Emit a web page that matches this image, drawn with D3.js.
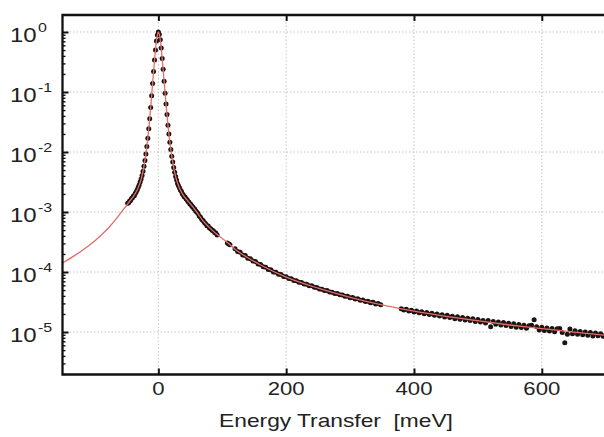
<!DOCTYPE html>
<html lang="en">
<head>
<meta charset="UTF-8">
<title>Energy Transfer</title>
<script src="https://cdn.jsdelivr.net/npm/d3@7"></script>
<style>
  body { margin: 0; background: #fff; }
  svg { display: block; }
  text { font-family: "Liberation Sans", Arial, sans-serif; fill: #222; }
</style>
</head>
<body>
<svg id="chart" width="604" height="437"></svg>
<script>
// measured points around the elastic peak (meV, normalised intensity)
const peakE = [-48, -46.5, -45, -43.5, -42, -40.5, -39, -37.5, -36, -34.5, -33, -31.5, -30, -28.5, -27, -25.5,
  -24, -22.5, -21, -19.5, -18, -16.5, -15, -13.5, -12, -10.5, -9, -7.5, -6, -4.5, -3, -1.5, 0,
  1.5, 3, 4.5, 6, 7.5, 9, 10.5, 12, 13.5, 15, 16.5, 18, 19.5, 21, 22.5, 24, 25.5, 27, 28.5, 30,
  31.5, 33, 34.5, 36, 37.5, 39, 40.5, 42, 43.5, 45, 46.5, 48, 49.5, 51, 52.5, 54, 55.5, 57, 58.5, 60,
  62, 64, 66, 68, 70, 72, 74, 76, 78, 80, 82, 84, 86, 88, 90, 92, 108, 110, 112];
const peakI = [1.40e-3, 1.43e-3, 1.53e-3, 1.56e-3, 1.68e-3, 1.73e-3, 1.84e-3, 1.89e-3, 2.05e-3, 2.17e-3,
  2.36e-3, 2.58e-3, 2.82e-3, 3.15e-3, 3.55e-3, 4.05e-3, 4.8e-3, 5.8e-3, 7.2e-3, 9.3e-3,
  1.23e-2, 1.7e-2, 2.45e-2, 3.6e-2, 5.5e-2, 8.7e-2, 0.138, 0.22, 0.34, 0.50, 0.71, 0.89, 1.0,
  0.91, 0.74, 0.54, 0.36, 0.24, 0.151, 0.095, 0.063, 0.042, 0.028,
  0.020, 0.0145, 0.011, 0.0085, 0.0068, 0.0055, 0.0046, 0.0039, 0.0034, 0.0030,
  0.00275, 0.00253, 0.00232, 0.00221, 0.00202, 0.00192, 0.0018, 0.00176, 0.00164, 0.0016,
  0.00149, 0.00146, 0.00136, 0.00133, 0.00125, 0.00121, 0.00114, 0.00111, 0.00104, 0.001,
  9.4e-4, 8.6e-4, 8.2e-4, 7.5e-4, 7.2e-4, 6.7e-4, 6.4e-4, 5.9e-4, 5.85e-4, 5.4e-4,
  5.25e-4, 4.95e-4, 4.85e-4, 4.55e-4, 4.45e-4, 4.15e-4, 3.05e-4, 2.92e-4, 2.85e-4];

// measured tail, 120 - 348 meV
const midE = [120, 124, 128, 132, 136, 140, 144, 148, 152, 156, 160, 164, 168, 172, 176, 180, 184, 188,
  192, 196, 200, 204, 208, 212, 216, 220, 224, 228, 232, 236, 240, 244, 248, 252, 256, 260, 264, 268,
  272, 276, 280, 284, 288, 292, 296, 300, 304, 308, 312, 316, 320, 324, 328, 332, 336, 340, 344, 348];
const midI = [2.45e-4, 2.20e-4, 2.14e-4, 1.92e-4, 1.88e-4, 1.70e-4, 1.67e-4, 1.52e-4, 1.49e-4, 1.36e-4,
  1.33e-4, 1.22e-4, 1.20e-4, 1.10e-4, 1.09e-4, 1.00e-4, 9.9e-5, 9.2e-5, 9.1e-5, 8.4e-5,
  8.3e-5, 7.8e-5, 7.7e-5, 7.2e-5, 7.15e-5, 6.75e-5, 6.7e-5, 6.3e-5, 6.25e-5, 5.9e-5,
  5.88e-5, 5.55e-5, 5.5e-5, 5.2e-5, 5.18e-5, 4.93e-5, 4.9e-5, 4.65e-5, 4.62e-5, 4.38e-5,
  4.4e-5, 4.16e-5, 4.15e-5, 3.93e-5, 3.96e-5, 3.74e-5, 3.77e-5, 3.55e-5, 3.58e-5, 3.38e-5,
  3.42e-5, 3.22e-5, 3.27e-5, 3.08e-5, 3.12e-5, 2.93e-5, 2.98e-5, 2.84e-5];

// measured tail, 380 - 700 meV (noisier)
const farE = [380, 384, 388, 392, 396, 400, 404, 408, 412, 416, 420, 424, 428, 432, 436, 440, 444, 448,
  452, 456, 460, 464, 468, 472, 476, 480, 484, 488, 492, 496, 500, 504, 508, 512, 516, 520, 524, 528,
  532, 536, 540, 544, 548, 552, 556, 560, 564, 568, 572, 576, 580, 584, 588, 592, 596, 600, 604, 608,
  612, 616, 620, 624, 628, 632, 636, 640, 644, 648, 652, 656, 660, 664, 668, 672, 676, 680, 684, 688,
  692, 696, 700];
const farI = [2.45e-5, 2.33e-5, 2.40e-5, 2.24e-5, 2.31e-5, 2.16e-5, 2.25e-5, 2.10e-5, 2.18e-5, 2.02e-5,
  2.12e-5, 1.96e-5, 2.06e-5, 1.90e-5, 2.00e-5, 1.85e-5, 1.94e-5, 1.78e-5, 1.90e-5, 1.74e-5,
  1.84e-5, 1.66e-5, 1.80e-5, 1.64e-5, 1.75e-5, 1.58e-5, 1.70e-5, 1.55e-5, 1.66e-5, 1.50e-5,
  1.62e-5, 1.47e-5, 1.56e-5, 1.42e-5, 1.55e-5, 1.22e-5, 1.50e-5, 1.35e-5, 1.47e-5, 1.31e-5,
  1.44e-5, 1.28e-5, 1.40e-5, 1.24e-5, 1.37e-5, 1.20e-5, 1.34e-5, 1.19e-5, 1.30e-5, 1.16e-5,
  1.27e-5, 1.30e-5, 1.60e-5, 1.22e-5, 1.08e-5, 1.20e-5, 1.06e-5, 1.17e-5, 1.04e-5, 1.15e-5,
  1.01e-5, 1.13e-5, 1.14e-5, 0.98e-5, 0.66e-5, 0.92e-5, 1.12e-5, 0.94e-5, 1.05e-5, 0.92e-5,
  1.02e-5, 0.90e-5, 1.00e-5, 0.88e-5, 0.98e-5, 0.86e-5, 0.96e-5, 0.87e-5, 0.94e-5, 0.85e-5, 0.90e-5];

// fitted model curve
const fitE = [-150, -130, -110, -90, -75, -62, -52, -45, -39, -33, -27, -22.5, -18, -15, -12, -9, -6, -4.5, -3, -1.5,
  0, 1.5, 3, 4.5, 6, 9, 12, 15, 18, 22.5, 27, 33, 39, 45, 52, 60, 70, 80, 92, 105,
  120, 140, 160, 200, 250, 300, 350, 400, 450, 500, 550, 600, 650, 700];
const fitI = [1.41e-4, 1.91e-4, 2.69e-4, 4.07e-4, 5.9e-4, 8.7e-4, 1.2e-3, 1.51e-3, 1.82e-3, 2.34e-3,
  3.5e-3, 5.8e-3, 1.23e-2, 2.45e-2, 5.5e-2, 0.138, 0.34, 0.5, 0.71, 0.89,
  1, 0.91, 0.74, 0.54, 0.36, 0.151, 0.063, 0.028, 0.0145, 0.0068,
  0.0039, 0.00251, 0.0019, 0.00158, 0.00129, 0.001, 7.1e-4, 5.5e-4, 4.2e-4, 3.3e-4,
  2.4e-4, 1.73e-4, 1.31e-4, 8.2e-5, 5.37e-5, 3.79e-5, 2.83e-5, 2.22e-5, 1.83e-5, 1.54e-5,
  1.31e-5, 1.14e-5, 9.95e-6, 8.8e-6];

const xTicks = [0, 200, 400, 600];
const yExps = [0, -1, -2, -3, -4, -5];
const xTitle = "Energy Transfer  [meV]";

// layout
const mLeft = 62.5, mTop = 15, mBottom = 374.5, mRight = 605.7;
const stretch = 1.23; // the original text is a bit wide

const svg = d3.select("#chart");

const x = d3.scaleLinear().domain([-150, 700]).range([mLeft, mRight]);
const y = d3.scaleLog()
  .domain([Math.pow(10, -5.708), Math.pow(10, 0.2833)])
  .range([mBottom, mTop]);

svg.append("defs").append("clipPath").attr("id", "plot")
  .append("rect")
  .attr("x", mLeft).attr("y", mTop)
  .attr("width", mRight - mLeft).attr("height", mBottom - mTop);

// grid
const yMajor = yExps.map(e => Math.pow(10, e));
const grid = svg.append("g").attr("stroke", "#c4c4c4").attr("stroke-width", 1).attr("stroke-dasharray", "1.5,2");
grid.selectAll(".gy").data(yMajor).enter().append("line")
  .attr("x1", mLeft).attr("x2", mRight)
  .attr("y1", d => y(d)).attr("y2", d => y(d));
grid.selectAll(".gx").data(xTicks).enter().append("line")
  .attr("y1", mTop).attr("y2", mBottom)
  .attr("x1", d => x(d)).attr("x2", d => x(d));

// data points
const points = [];
[[peakE, peakI], [midE, midI], [farE, farI]].forEach(([es, is]) => {
  es.forEach((e, i) => points.push([e, is[i]]));
});

const plot = svg.append("g").attr("clip-path", "url(#plot)");

plot.selectAll("circle").data(points).enter().append("circle")
  .attr("cx", d => x(d[0]))
  .attr("cy", d => y(d[1]))
  .attr("r", 2.5)
  .attr("fill", "#1f1212");

// fit line
const line = d3.line()
  .x(d => x(d[0]))
  .y(d => y(d[1]))
  .curve(d3.curveMonotoneX);

plot.append("path")
  .datum(fitE.map((e, i) => [e, fitI[i]]))
  .attr("d", line)
  .attr("fill", "none")
  .attr("stroke", "#e0706a")
  .attr("stroke-width", 1.3);

// ticks (inward)
const yMinor = [];
for (let d = -6; d <= 0; d++) {
  for (let m = 2; m <= 9; m++) {
    const v = m * Math.pow(10, d);
    if (v > y.domain()[0] && v < y.domain()[1]) yMinor.push(v);
  }
}

svg.append("g").attr("transform", `translate(${mLeft},0)`)
  .call(d3.axisLeft(y).tickValues(yMinor).tickSize(-3).tickFormat(""))
  .call(g => g.select(".domain").remove())
  .selectAll("line").attr("stroke", "#111").attr("stroke-width", 1.4);

svg.append("g").attr("transform", `translate(${mLeft},0)`)
  .call(d3.axisLeft(y).tickValues(yMajor).tickSize(-6).tickFormat(""))
  .call(g => g.select(".domain").remove())
  .selectAll("line").attr("stroke", "#111").attr("stroke-width", 2);

svg.append("g").attr("transform", `translate(0,${mBottom})`)
  .call(d3.axisBottom(x).tickValues(xTicks).tickSize(-6).tickFormat(""))
  .call(g => g.select(".domain").remove())
  .selectAll("line").attr("stroke", "#111").attr("stroke-width", 2);

svg.append("g").attr("transform", `translate(0,${mTop})`)
  .call(d3.axisTop(x).tickValues(xTicks).tickSize(-6).tickFormat(""))
  .call(g => g.select(".domain").remove())
  .selectAll("line").attr("stroke", "#111").attr("stroke-width", 2);

// frame
svg.append("path")
  .attr("d", `M${mRight},${mTop}H${mLeft}V${mBottom}H${mRight}`)
  .attr("fill", "none")
  .attr("stroke", "#111")
  .attr("stroke-width", 2.3);

// y labels: 10^n
yExps.forEach(e => {
  const t = svg.append("g")
    .attr("transform", `translate(10,${y(Math.pow(10, e)) + 10}) scale(${stretch},1)`)
    .append("text");
  t.append("tspan").attr("font-size", 19.5).text("10");
  t.append("tspan").attr("font-size", 13).attr("dx", 1).attr("dy", -10).text(String(e));
});

// x labels
xTicks.forEach(v => {
  svg.append("g")
    .attr("transform", `translate(${x(v)},395) scale(${stretch},1)`)
    .append("text")
    .attr("text-anchor", "middle")
    .attr("font-size", 18)
    .text(v);
});

svg.append("g")
  .attr("transform", `translate(336,427) scale(${stretch},1)`)
  .append("text")
  .attr("text-anchor", "middle")
  .attr("font-size", 18.5)
  .style("white-space", "pre")
  .text(xTitle);
</script>
</body>
</html>
